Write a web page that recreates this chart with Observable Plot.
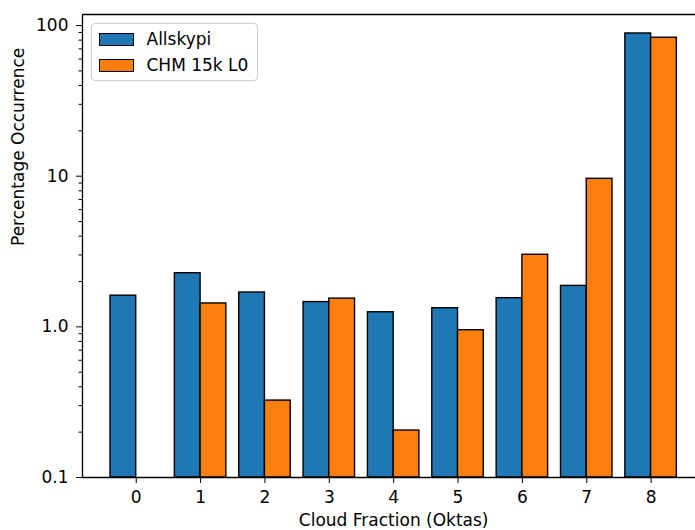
<!DOCTYPE html>
<html><head><meta charset="utf-8">
<script src="https://cdn.jsdelivr.net/npm/d3@7"></script>
<script src="https://cdn.jsdelivr.net/npm/@observablehq/plot@0.6"></script>
<style>
html,body{margin:0;padding:0;background:#fff;}
#chart{position:relative;width:695px;height:530px;font-family:"DejaVu Sans",sans-serif;overflow:hidden;}
#legend{position:absolute;left:90.5px;top:22.5px;width:165px;height:56px;border:1px solid #cccccc;border-radius:4px;background:rgba(255,255,255,0.8);font-size:17px;color:#000;}
#legend .item{position:absolute;left:7px;height:13px;}
#legend .sw{position:absolute;left:0;top:0;width:33px;height:11px;border:1.3px solid #000;}
#legend .lab{position:absolute;left:48px;top:-4px;white-space:nowrap;line-height:20px;}
</style></head><body><div id="chart"></div>
<script>
const categories = [0, 1, 2, 3, 4, 5, 6, 7, 8];
const seriesNames = ["Allskypi", "CHM 15k L0"];
const seriesColors = ["#1f77b4", "#ff7f0e"];
const allskypi = [1.61, 2.27, 1.69, 1.46, 1.25, 1.33, 1.55, 1.87, 88.6];
const chm15k = [null, 1.43, 0.324, 1.54, 0.205, 0.95, 3.01, 9.61, 83.0];
const yTickValues = [0.1, 1, 10, 100];
const yTickLabels = ["0.1", "1.0", "10", "100"];
const xLabel = "Cloud Fraction (Oktas)";
const yLabel = "Percentage Occurrence";

const barWidth = 0.4;
const seriesValues = [allskypi, chm15k];
const rows = [];
seriesValues.forEach((vals, si) => {
  categories.forEach((c, i) => {
    if (vals[i] != null) rows.push({cat: c, series: seriesNames[si], si, value: vals[i]});
  });
});
const minor = [];
for (const dec of [0.1, 1, 10]) for (let k = 2; k <= 9; k++) minor.push(+(dec * k).toPrecision(3));
const labelMap = new Map(yTickValues.map((v, i) => [v, yTickLabels[i]]));

const xFull = [-0.84, 8.84];
const yMin = 0.1, yMax = 118.4;

const plot = Plot.plot({
  width: 695, height: 530,
  marginLeft: 82, marginRight: 0, marginTop: 14, marginBottom: 53,
  x: {type: "linear", domain: [-0.835, 8.69], axis: null},
  y: {type: "log", domain: [yMin, yMax], axis: null},
  color: {domain: seriesNames, range: seriesColors},
  style: {fontFamily: "DejaVu Sans, sans-serif", fontSize: "17px", color: "#000", background: "#fff", overflow: "visible"},
  marks: [
    Plot.rectY(rows, {
      x1: d => d.cat - barWidth + d.si * barWidth,
      x2: d => d.cat + d.si * barWidth,
      y1: yMin, y2: "value",
      fill: "series", stroke: "#000", strokeWidth: 1.4
    }),
    Plot.ruleY([yMax], {stroke: "#000", strokeWidth: 1.3}),
    Plot.ruleY([yMin], {stroke: "#000", strokeWidth: 1.3}),
    Plot.ruleX([-0.835], {stroke: "#000", strokeWidth: 1.3}),
    Plot.axisX(categories, {tickSize: 6, tickPadding: 7, tickFormat: d => String(d), label: null, fontSize: 17}),
    Plot.axisY(yTickValues, {tickSize: 6, tickPadding: 8, tickFormat: d => labelMap.get(d), label: null, fontSize: 17}),
    Plot.axisY(minor, {tickSize: 3.5, tickFormat: () => "", label: null}),
    Plot.text([xLabel], {x: (xFull[0] + xFull[1]) / 2, frameAnchor: "bottom", dy: 43, lineAnchor: "middle", fontSize: 17}),
    Plot.text([yLabel], {frameAnchor: "left", dx: -64, rotate: -90, lineAnchor: "middle", fontSize: 17})
  ]
});
const chart = document.getElementById("chart");
chart.appendChild(plot);

const legend = document.createElement("div");
legend.id = "legend";
seriesNames.forEach((name, i) => {
  const item = document.createElement("div");
  item.className = "item";
  item.style.top = (9 + i * 26.6) + "px";
  const sw = document.createElement("div");
  sw.className = "sw";
  sw.style.background = seriesColors[i];
  const lab = document.createElement("div");
  lab.className = "lab";
  lab.textContent = name;
  item.appendChild(sw); item.appendChild(lab);
  legend.appendChild(item);
});
chart.appendChild(legend);
</script></body></html>
